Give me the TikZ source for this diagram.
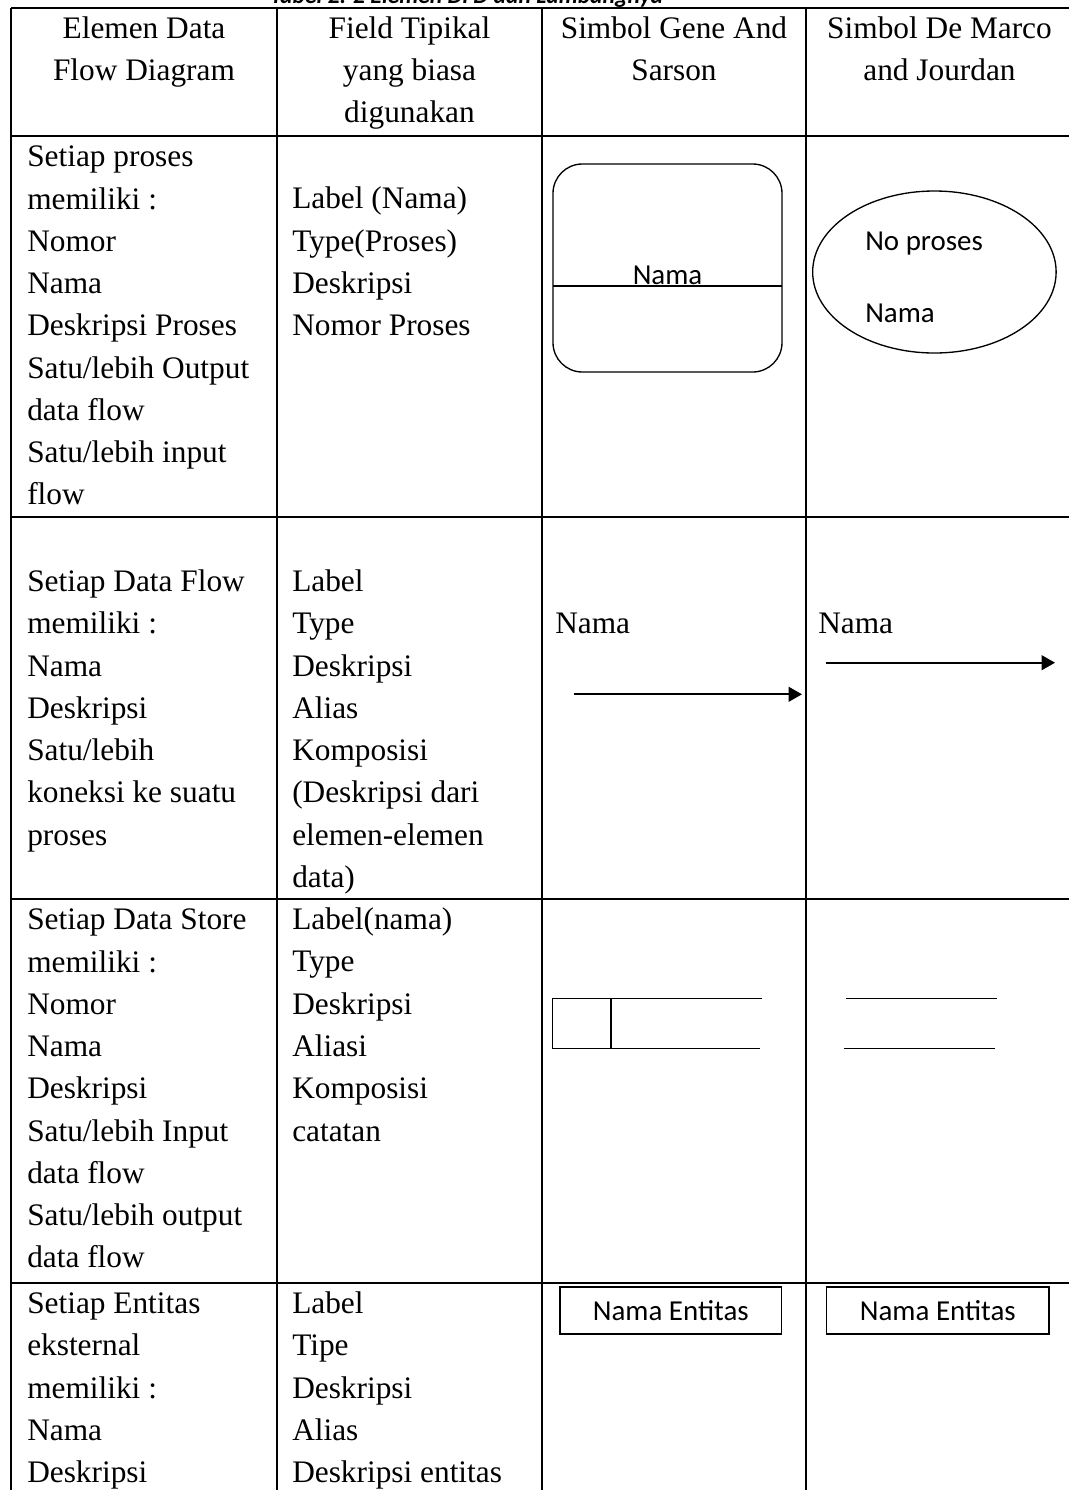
\documentclass[tikz,border=0pt]{standalone}
\usepackage{fontspec}
\setmainfont{Liberation Serif}
\newfontfamily\calfont{Carlito}
\usetikzlibrary{arrows.meta}
\begin{document}
\begin{tikzpicture}[x=0.75pt,y=-0.75pt,
  grid/.style={line width=1.3pt},
  % multi-line cells: the base anchor sits on the last line
  cell/.style={anchor=base west,inner sep=0pt,align=left,font=\fontsize{23.5pt}{31.7pt}\selectfont},
  head/.style={anchor=base,inner sep=0pt,align=center,font=\fontsize{23.5pt}{31.7pt}\selectfont},
  sym/.style={line width=1pt},
  symtext/.style={inner sep=0pt,font=\calfont\fontsize{21.7pt}{26pt}\selectfont},
  flow/.style={line width=1.4pt,-{Triangle[length=10pt,width=11pt]}}
]
\useasboundingbox (0,0) rectangle (1069,1490);
\clip (0,0) rectangle (1069,1490);

% caption above the table (mostly above the page edge)
\node[anchor=base west,inner sep=0pt,font=\calfont\bfseries\itshape\fontsize{17.7pt}{20pt}\selectfont] (cap) at (270,3.5) {Tabel 2. 2 Elemen DFD dan Lambangnya};

% table rules
\foreach \yy in {8,136,517,899,1283}
  \draw[grid] (11,\yy) -- (1073,\yy);
\foreach \xx in {11,277,542,806,1073}
  \draw[grid] (\xx,8) -- (\xx,1500);

% header
\node[head] (h1) at (144,80.3) {Elemen Data\\Flow Diagram};
\node[head] (h2) at (409.5,122.6) {Field Tipikal\\yang biasa\\digunakan};
\node[head] (h3) at (674,80.3) {Simbol Gene And\\Sarson};
\node[head] (h4) at (939.5,80.3) {Simbol De Marco\\and Jourdan};

% row 1: process
\node[cell] (r1c1) at (27,504.9) {Setiap proses\\memiliki :\\Nomor\\Nama\\Deskripsi Proses\\Satu/lebih Output\\data flow\\Satu/lebih input\\flow};
\node[cell] (r1c2) at (292,335.7) {Label (Nama)\\Type(Proses)\\Deskripsi\\Nomor Proses};
\draw[sym,rounded corners=22pt] (553,164) rectangle (782,372);
\draw[sym] (553,286) -- (782,286);
\node[symtext,anchor=base] (gsname) at (667.5,284) {Nama};
\draw[sym] (934.4,272) ellipse [x radius=91.3pt, y radius=60.75pt];
\node[symtext,anchor=base west] (dmno) at (865,250) {No proses};
\node[symtext,anchor=base west] (dmname) at (865,322) {Nama};

% row 2: data flow
\node[cell] (r2c1) at (27,845.1) {Setiap Data Flow\\memiliki :\\Nama\\Deskripsi\\Satu/lebih\\koneksi ke suatu\\proses};
\node[cell] (r2c2) at (292,887.4) {Label\\Type\\Deskripsi\\Alias\\Komposisi\\(Deskripsi dari\\elemen-elemen\\data)};
\node[cell] (r2c3) at (555,633.6) {Nama};
\node[cell] (r2c4) at (818,633.6) {Nama};
\coordinate (gsfrom) at (574,694.3);
\coordinate (gsto) at (802,694.3);
\coordinate (dmfrom) at (826,662.7);
\coordinate (dmto) at (1055,662.7);
\draw[flow] (gsfrom) -- (gsto);
\draw[flow] (dmfrom) -- (dmto);

% row 3: data store
\node[cell] (r3c1) at (27,1267.9) {Setiap Data Store\\memiliki :\\Nomor\\Nama\\Deskripsi\\Satu/lebih Input\\data flow\\Satu/lebih output\\data flow};
\node[cell] (r3c2) at (292,1141) {Label(nama)\\Type\\Deskripsi\\Aliasi\\Komposisi\\catatan};
\draw[sym] (762.3,998.7) -- (552.3,998.7) -- (552.3,1048.3) -- (760,1048.3);
\draw[sym] (611,998.7) -- (611,1048.3);
\draw[sym] (846,998.7) -- (996.7,998.7);
\draw[sym] (843.7,1048.3) -- (995,1048.3);

% row 4: external entity
\node[cell] (r4c1) at (27,1482.7) {Setiap Entitas\\eksternal\\memiliki :\\Nama\\Deskripsi};
\node[cell] (r4c2) at (292,1482.7) {Label\\Tipe\\Deskripsi\\Alias\\Deskripsi entitas};
\draw[sym] (560,1287) rectangle (781.7,1334);
\node[symtext] (gsent) at (670.8,1310.5) {Nama Entitas};
\draw[sym] (826.7,1287) rectangle (1049,1334);
\node[symtext] (dment) at (937.8,1310.5) {Nama Entitas};
\end{tikzpicture}
\end{document}
